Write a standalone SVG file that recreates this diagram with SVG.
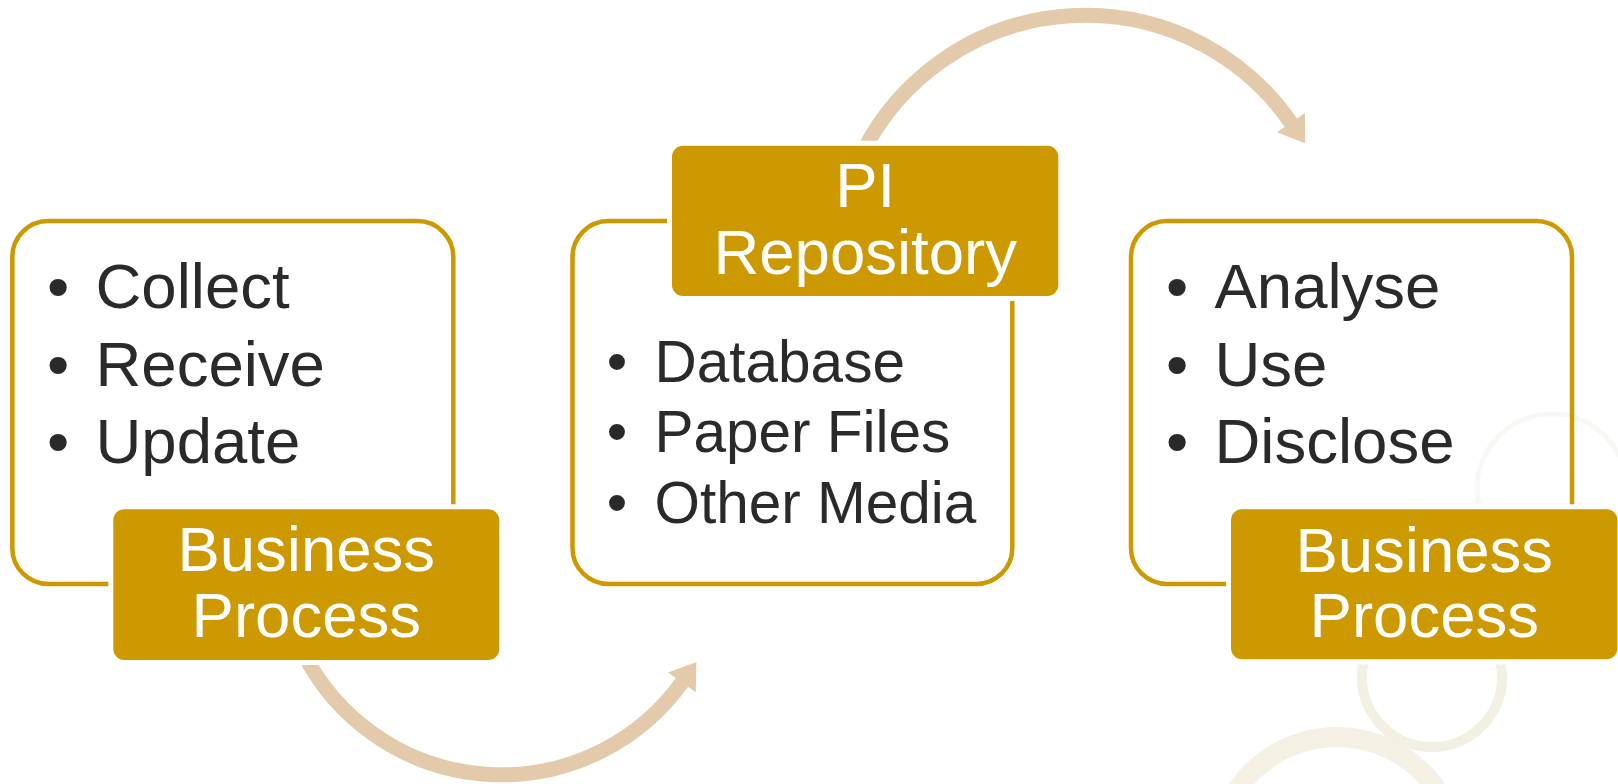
<svg xmlns="http://www.w3.org/2000/svg" width="1618" height="784" viewBox="0 0 1618 784">
  <style>
    .ring { fill: none; }
    .outline { fill: none; stroke: #CC9900; stroke-width: 4.5; }
    .label { fill: #CC9900; stroke: #FFFFFF; stroke-width: 10; paint-order: stroke; }
    .arrow { fill: none; stroke: #E3CAAA; stroke-width: 15; }
    .item { font-family: "Liberation Sans", Arial, sans-serif; font-size: 63.5px; fill: #2A2A2A; }
    .item-m { font-family: "Liberation Sans", Arial, sans-serif; font-size: 58.5px; fill: #2A2A2A; }
    .bul { text-anchor: middle; }
    .lbl { font-family: "Liberation Sans", Arial, sans-serif; font-size: 63.5px; fill: #FFFFFF; text-anchor: middle; }
  </style>
  <defs>
    <marker id="head" viewBox="-2 -20 30 40" markerWidth="30" markerHeight="40" refX="0" refY="0" orient="auto" markerUnits="userSpaceOnUse">
      <path d="M -1 -17 L 24 0 L -1 17 Z" fill="#E3CAAA"/>
    </marker>
  </defs>
  <rect width="1618" height="784" fill="#FFFFFF"/>

  <g id="decoration">
    <circle class="ring" cx="1552" cy="489" r="75" stroke="#F8F7F3" stroke-width="5"/>
    <circle class="ring" cx="1432" cy="677" r="70" stroke="#F3EFE3" stroke-width="10"/>
    <circle class="ring" cx="1337" cy="858" r="121" stroke="#F4F0E4" stroke-width="20"/>
  </g>

  <g id="connectors">
    <path class="arrow" d="M 304.4 655 A 222.2 222.2 0 0 0 682.5 681.6" marker-end="url(#head)"/>
    <path class="arrow" d="M 863.7 150 A 250 250 0 0 1 1291.5 123.5" marker-end="url(#head)"/>
  </g>

  <g id="node-collect">
    <rect class="outline" x="12.3" y="221" width="441" height="363" rx="36" ry="36"/>
    <text class="item bul" x="58" y="308.3">•</text>
    <text class="item bul" x="58" y="386">•</text>
    <text class="item bul" x="58" y="463.3">•</text>
    <text class="item" x="95.5" y="308.3">Collect</text>
    <text class="item" x="95.5" y="386">Receive</text>
    <text class="item" x="95.5" y="463.3">Update</text>
  </g>

  <g id="node-repository">
    <rect class="outline" x="572.5" y="221" width="439.8" height="363" rx="36" ry="36"/>
    <text class="item-m bul" x="617" y="381.7">•</text>
    <text class="item-m bul" x="617" y="452.3">•</text>
    <text class="item-m bul" x="617" y="523.3">•</text>
    <text class="item-m" x="654.5" y="381.7">Database</text>
    <text class="item-m" x="654.5" y="452.3">Paper Files</text>
    <text class="item-m" x="654.5" y="523.3">Other Media</text>
  </g>

  <g id="node-analyse">
    <rect class="outline" x="1131" y="221" width="441" height="363" rx="36" ry="36"/>
    <text class="item bul" x="1177" y="308.3">•</text>
    <text class="item bul" x="1177" y="386">•</text>
    <text class="item bul" x="1177" y="463.3">•</text>
    <text class="item" x="1214.5" y="308.3">Analyse</text>
    <text class="item" x="1214.5" y="386">Use</text>
    <text class="item" x="1214.5" y="463.3">Disclose</text>
  </g>

  <g id="label-business-1">
    <rect class="label" x="113.3" y="509.3" width="386" height="150.7" rx="11" ry="11"/>
    <text class="lbl" x="306.3" y="571">Business</text>
    <text class="lbl" x="306.3" y="637">Process</text>
  </g>

  <g id="label-pi-repository">
    <rect class="label" x="672" y="145.7" width="386.3" height="150.3" rx="11" ry="11"/>
    <text class="lbl" x="865.2" y="206.7">PI</text>
    <text class="lbl" x="865.2" y="274">Repository</text>
  </g>

  <g id="label-business-2">
    <rect class="label" x="1231" y="509.3" width="386.5" height="150" rx="11" ry="11"/>
    <text class="lbl" x="1424.3" y="571.5">Business</text>
    <text class="lbl" x="1424.3" y="637.3">Process</text>
  </g>
</svg>
